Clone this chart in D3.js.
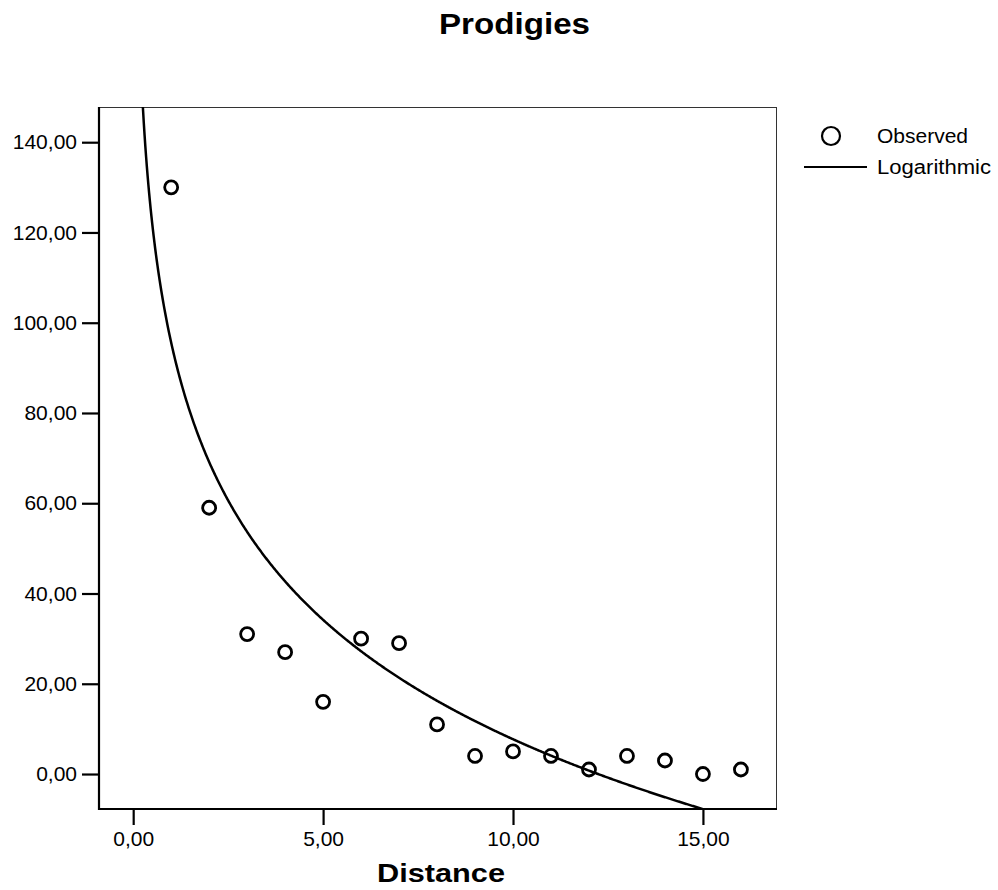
<!DOCTYPE html>
<html>
<head>
<meta charset="utf-8">
<script src="https://cdn.jsdelivr.net/npm/d3@7"></script>
<style>
  html, body { margin: 0; padding: 0; background: #fff; }
  svg { display: block; font-family: Arial, "Liberation Sans", sans-serif; }
</style>
</head>
<body>
<svg id="chart" width="998" height="890"></svg>
<script>
// ---- data ----
const distance = [1, 2, 3, 4, 5, 6, 7, 8, 9, 10, 11, 12, 13, 14, 15, 16];
const prodigies = [130, 59, 31, 27, 16, 30, 29, 11, 4, 5, 4, 1, 4, 3, 0, 1];
// logarithmic model y = a + b * ln(x), coefficients
const logFit = [95.6, -38.17];
const xTicks = [0, 5, 10, 15];
const yTicks = [0, 20, 40, 60, 80, 100, 120, 140];
const legendLabels = ["Observed", "Logarithmic"];

// ---- layout ----
const svg = d3.select("#chart");
const L = 99, R = 777, T = 107, B = 809;
const x = d3.scaleLinear().domain([-0.9, 16.95]).range([L, R]);
const y = d3.scaleLinear().domain([-7.75, 147.8]).range([B, T]);
const fmt = v => d3.format(".2f")(v).replace(".", ",");

// title
svg.append("text")
  .attr("x", 439).attr("y", 34)
  .attr("font-size", 30).attr("font-weight", "bold")
  .attr("textLength", 151).attr("lengthAdjust", "spacingAndGlyphs")
  .text("Prodigies");

// frame: top and right thin
svg.append("line").attr("x1", L).attr("x2", R).attr("y1", T + 0.5).attr("y2", T + 0.5)
  .attr("stroke", "#333").attr("stroke-width", 1);
svg.append("line").attr("x1", R - 0.5).attr("x2", R - 0.5).attr("y1", T).attr("y2", B)
  .attr("stroke", "#333").attr("stroke-width", 1);

// clip for curve
svg.append("clipPath").attr("id", "plotClip")
  .append("rect").attr("x", L).attr("y", T).attr("width", R - L).attr("height", B - T);

// logarithmic curve
const curveX = d3.range(0.2, 16.95, 0.02);
const line = d3.line()
  .x(d => x(d))
  .y(d => y(logFit[0] + logFit[1] * Math.log(d)));
svg.append("path")
  .datum(curveX)
  .attr("clip-path", "url(#plotClip)")
  .attr("d", line)
  .attr("fill", "none").attr("stroke", "#000").attr("stroke-width", 2.5);

// observed points
svg.append("g").selectAll("circle")
  .data(distance.map((d, i) => [d, prodigies[i]]))
  .join("circle")
  .attr("cx", d => x(d[0])).attr("cy", d => y(d[1]))
  .attr("r", 6.5)
  .attr("fill", "none").attr("stroke", "#000").attr("stroke-width", 2.8);

// y axis
const yAxis = d3.axisLeft(y).tickValues(yTicks).tickFormat(fmt).tickSize(17).tickPadding(5);
const gy = svg.append("g").attr("transform", `translate(${L},0)`).call(yAxis);
gy.select(".domain").attr("d", `M0,${T}V${B + 1}`).attr("stroke", "#000").attr("stroke-width", 2.2);
gy.selectAll(".tick line").attr("stroke", "#000").attr("stroke-width", 2.2);
gy.selectAll(".tick text").attr("font-size", 21).attr("fill", "#000")
  .attr("font-family", "Arial, 'Liberation Sans', sans-serif");

// x axis
const xAxis = d3.axisBottom(x).tickValues(xTicks).tickFormat(fmt).tickSize(16).tickPadding(6);
const gx = svg.append("g").attr("transform", `translate(0,${B})`).call(xAxis);
gx.select(".domain").attr("d", `M${L - 1},0H${R}`).attr("stroke", "#000").attr("stroke-width", 2.2);
gx.selectAll(".tick line").attr("stroke", "#000").attr("stroke-width", 2.2);
gx.selectAll(".tick text").attr("font-size", 21).attr("fill", "#000")
  .attr("font-family", "Arial, 'Liberation Sans', sans-serif");

// x axis title
svg.append("text")
  .attr("x", 377).attr("y", 882)
  .attr("font-size", 25).attr("font-weight", "bold")
  .attr("textLength", 128).attr("lengthAdjust", "spacingAndGlyphs")
  .text("Distance");

// legend
const lg = svg.append("g");
lg.append("circle").attr("cx", 831).attr("cy", 136).attr("r", 9)
  .attr("fill", "none").attr("stroke", "#000").attr("stroke-width", 2.2);
lg.append("text").attr("x", 877).attr("y", 143).attr("font-size", 20)
  .attr("textLength", 91).attr("lengthAdjust", "spacingAndGlyphs")
  .text(legendLabels[0]);
lg.append("line").attr("x1", 804).attr("x2", 867).attr("y1", 167).attr("y2", 167)
  .attr("stroke", "#000").attr("stroke-width", 2.2);
lg.append("text").attr("x", 877).attr("y", 174).attr("font-size", 20)
  .attr("textLength", 114).attr("lengthAdjust", "spacingAndGlyphs")
  .text(legendLabels[1]);
</script>
</body>
</html>
